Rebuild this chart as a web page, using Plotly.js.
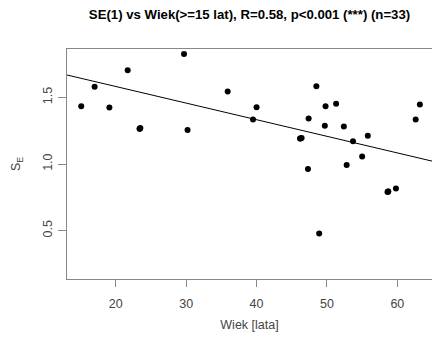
<!DOCTYPE html>
<html>
<head>
<meta charset="utf-8">
<script src="https://cdn.plot.ly/plotly-3.0.1.min.js"></script>
<style>html,body{margin:0;padding:0;background:#fff;}#chart{width:432px;height:340px;}</style>
</head>
<body>
<div id="chart"></div>
<script>
// Age (Wiek) in years
var wiek = [15.1, 17.0, 19.1, 21.7, 23.4, 23.5, 29.7, 30.2, 35.9, 40.0, 39.5,
            48.5, 47.4, 49.8, 51.3, 46.2, 46.4, 49.7, 52.4, 53.7, 55.8, 55.0,
            52.8, 47.3, 58.7, 58.6, 59.8, 48.9, 62.6, 63.2, 23.4, 46.2, 58.7];
// S_E values
var se = [1.434, 1.581, 1.425, 1.704, 1.264, 1.271, 1.827, 1.256, 1.545, 1.427, 1.334,
          1.585, 1.342, 1.434, 1.452, 1.191, 1.196, 1.287, 1.281, 1.170, 1.213, 1.057,
          0.992, 0.962, 0.793, 0.789, 0.816, 0.477, 1.334, 1.447, 1.264, 1.191, 0.793];
// Regression line coefficients
var fitIntercept = 1.832;
var fitSlope = -0.01248;
var xRange = [13.08, 64.92];
var yRange = [0.136, 1.864];
var xTicks = [20, 30, 40, 50, 60];
var yTicks = [0.5, 1.0, 1.5];
var yTickText = ['0.5', '1.0', '1.5'];

var fitX = xRange.slice();
var fitY = fitX.map(function (x) { return fitIntercept + fitSlope * x; });

var font = {family: '"Liberation Sans", Arial, sans-serif', color: '#444', size: 12.5};

var data = [
  {x: wiek, y: se, type: 'scatter', mode: 'markers',
   marker: {color: '#000', size: 6}, hoverinfo: 'none', showlegend: false},
  {x: fitX, y: fitY, type: 'scatter', mode: 'lines',
   line: {color: '#000', width: 1}, hoverinfo: 'none', showlegend: false}
];

var layout = {
  width: 432, height: 340,
  margin: {l: 67, r: 0, t: 49, b: 61, pad: 0},
  paper_bgcolor: '#fff', plot_bgcolor: '#fff',
  font: font,
  showlegend: false,
  title: {
    text: '<b>SE(1) vs Wiek(>=15 lat), R=0.58, p<0.001 (***) (n=33)</b>',
    font: {family: '"Liberation Sans", Arial, sans-serif', size: 13.2, color: '#000'},
    xref: 'paper', x: 0.5, xanchor: 'center',
    yref: 'container', y: 1 - 14 / 340, yanchor: 'middle'
  },
  xaxis: {
    range: xRange, tickmode: 'array', tickvals: xTicks, ticktext: xTicks.map(String),
    showgrid: false, zeroline: false,
    showline: true, mirror: true, linecolor: '#888', linewidth: 1,
    ticks: 'outside', ticklen: 7, tickcolor: '#888', tickwidth: 1,
    ticklabelstandoff: 6,
    tickfont: font,
    title: {text: 'Wiek [lata]', font: font, standoff: 10}
  },
  yaxis: {
    range: yRange, tickmode: 'array', tickvals: yTicks, ticktext: yTickText,
    showgrid: false, zeroline: false,
    showline: true, mirror: false, linecolor: '#888', linewidth: 1,
    ticks: 'outside', ticklen: 8, tickcolor: '#888', tickwidth: 1,
    tickangle: -90,
    ticklabelstandoff: 1,
    tickfont: font,
    title: {text: 'S<sub>E</sub>', font: font, standoff: 17}
  }
};

Plotly.newPlot('chart', data, layout, {staticPlot: true, displayModeBar: false});
</script>
</body>
</html>
